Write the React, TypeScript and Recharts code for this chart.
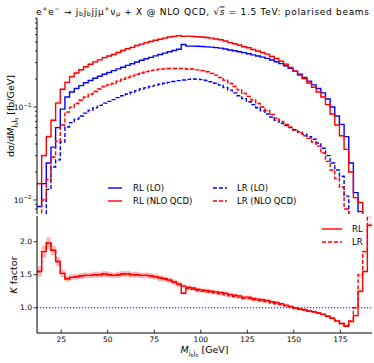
import { Area, ComposedChart, Line, ReferenceLine, XAxis, YAxis } from "recharts"

const FONT = "DejaVu Sans"
const BLUE = "#0000ff"
const RED = "#ff0000"

// M_jbjb bins: 72 bins of 2.5 GeV from 12 to 192 GeV
const BIN_START = 12
const BIN_WIDTH = 2.5

// dsigma/dM [fb/GeV], RL polarisation
const rlLO = [
  0.0085, 0.015, 0.025, 0.037, 0.06, 0.095, 0.128, 0.145, 0.158, 0.17,
  0.182, 0.193, 0.204, 0.214, 0.225, 0.235, 0.246, 0.257, 0.268, 0.28,
  0.292, 0.305, 0.318, 0.33, 0.342, 0.355, 0.367, 0.38, 0.393, 0.405,
  0.418, 0.47, 0.452, 0.452, 0.45, 0.447, 0.443, 0.44, 0.435, 0.43,
  0.42, 0.41, 0.402, 0.393, 0.384, 0.374, 0.364, 0.354, 0.344, 0.333,
  0.32, 0.307, 0.293, 0.278, 0.261, 0.243, 0.225, 0.208, 0.19, 0.173,
  0.158, 0.142, 0.122, 0.1, 0.08, 0.065, 0.048, 0.025, 0.012, 0.0075,
  0.003, 0.001,
]
const rlNLO = [
  0.015, 0.03, 0.048, 0.072, 0.11, 0.155, 0.184, 0.212, 0.232, 0.252,
  0.271, 0.288, 0.306, 0.321, 0.34, 0.353, 0.367, 0.386, 0.405, 0.423,
  0.438, 0.458, 0.474, 0.492, 0.506, 0.522, 0.535, 0.55, 0.565, 0.575,
  0.585, 0.575, 0.578, 0.575, 0.57, 0.565, 0.558, 0.55, 0.539, 0.529,
  0.512, 0.492, 0.478, 0.464, 0.445, 0.434, 0.415, 0.4, 0.385, 0.37,
  0.349, 0.332, 0.311, 0.289, 0.266, 0.243, 0.22, 0.202, 0.181, 0.163,
  0.145, 0.128, 0.106, 0.084, 0.064, 0.049, 0.035, 0.02, 0.0106, 0.0094,
  0.0047, 0.0023,
]

// LR polarisation
const lrLO = [
  0.002, 0.004, 0.013, 0.0226, 0.027, 0.042, 0.061, 0.068, 0.074, 0.08,
  0.086, 0.092, 0.098, 0.104, 0.11, 0.115, 0.12, 0.126, 0.132, 0.138,
  0.144, 0.15, 0.156, 0.161, 0.166, 0.171, 0.176, 0.18, 0.184, 0.188,
  0.192, 0.195, 0.198, 0.2, 0.199, 0.197, 0.193, 0.187, 0.18, 0.172,
  0.162, 0.152, 0.142, 0.132, 0.123, 0.114, 0.106, 0.098, 0.091, 0.084,
  0.078, 0.072, 0.067, 0.063, 0.06, 0.057, 0.054, 0.051, 0.048, 0.045,
  0.041, 0.036, 0.03, 0.025, 0.021, 0.018, 0.011, 0.006, 0.002, 0.001,
  0.001, 0.001,
]
const lrNLO = [
  0.006, 0.01, 0.0165, 0.029, 0.043, 0.064, 0.088, 0.099, 0.109, 0.118,
  0.128, 0.137, 0.147, 0.156, 0.166, 0.173, 0.179, 0.189, 0.199, 0.208,
  0.216, 0.225, 0.232, 0.24, 0.246, 0.251, 0.255, 0.257, 0.259, 0.259,
  0.259, 0.259, 0.255, 0.256, 0.251, 0.246, 0.239, 0.23, 0.22, 0.208,
  0.194, 0.179, 0.166, 0.153, 0.14, 0.13, 0.119, 0.109, 0.1, 0.092,
  0.083, 0.076, 0.07, 0.065, 0.061, 0.056, 0.053, 0.049, 0.046, 0.042,
  0.038, 0.032, 0.026, 0.021, 0.017, 0.0137, 0.008, 0.0048, 0.002, 0.0015,
  0.0018, 0.0024,
]

// K factors NLO/LO
const kRL = [
  1.55, 1.85, 1.98, 1.87, 1.7, 1.52, 1.44, 1.46, 1.47, 1.48,
  1.49, 1.49, 1.5, 1.5, 1.51, 1.5, 1.49, 1.5, 1.51, 1.51,
  1.5, 1.5, 1.49, 1.49, 1.48, 1.47, 1.45, 1.44, 1.42, 1.39,
  1.36, 1.22, 1.31, 1.3, 1.28, 1.27, 1.26, 1.25, 1.24, 1.23,
  1.22, 1.2, 1.19, 1.18, 1.16, 1.16, 1.14, 1.13, 1.12, 1.11,
  1.09, 1.08, 1.06, 1.04, 1.02, 1.0, 0.98, 0.97, 0.95, 0.94,
  0.92, 0.9, 0.87, 0.84, 0.8, 0.76, 0.72, 0.79, 0.88, 1.25,
  1.55, 2.25,
]
const kLR = [
  1.55, 1.85, 1.98, 1.87, 1.7, 1.52, 1.44, 1.46, 1.47, 1.48,
  1.49, 1.49, 1.5, 1.5, 1.51, 1.5, 1.49, 1.5, 1.51, 1.51,
  1.5, 1.5, 1.49, 1.49, 1.48, 1.47, 1.45, 1.43, 1.41, 1.38,
  1.35, 1.33, 1.29, 1.28, 1.26, 1.25, 1.24, 1.23, 1.22, 1.21,
  1.2, 1.18, 1.17, 1.16, 1.14, 1.14, 1.12, 1.11, 1.1, 1.09,
  1.07, 1.06, 1.05, 1.03, 1.01, 0.99, 0.98, 0.97, 0.95, 0.94,
  0.92, 0.9, 0.87, 0.84, 0.8, 0.76, 0.73, 0.8, 1.0, 1.5,
  1.85, 2.4,
]

// relative scale uncertainty of the NLO predictions
const scaleUnc = [
  0.05, 0.05, 0.045, 0.04, 0.04, 0.035, 0.03, 0.03, 0.03, 0.03,
  0.03, 0.03, 0.03, 0.03, 0.03, 0.03, 0.03, 0.03, 0.03, 0.03,
  0.03, 0.03, 0.03, 0.03, 0.03, 0.03, 0.03, 0.03, 0.03, 0.03,
  0.03, 0.025, 0.025, 0.025, 0.025, 0.025, 0.025, 0.025, 0.025, 0.025,
  0.025, 0.025, 0.025, 0.025, 0.025, 0.025, 0.025, 0.025, 0.025, 0.025,
  0.025, 0.02, 0.02, 0.02, 0.02, 0.02, 0.02, 0.02, 0.02, 0.02,
  0.02, 0.02, 0.02, 0.02, 0.02, 0.02, 0.02, 0.02, 0.02, 0.02,
  0.02, 0.02,
]

const xTicks = [25, 50, 75, 100, 125, 150, 175]
const logMajor = [0.01, 0.1]
const logTicks = [
  0.008, 0.009, 0.01, 0.02, 0.03, 0.04, 0.05, 0.06, 0.07, 0.08, 0.09,
  0.1, 0.2, 0.3, 0.4, 0.5, 0.6, 0.7, 0.8, 0.9,
]
const kTicks = [1.0, 1.5, 2.0]

const band = (v: number, u: number) => [v * (1 - u), v * (1 + u)]

// one row per bin edge, last edge repeats the last bin for the step outline
const rows = Array.from({ length: rlLO.length + 1 }, (_, i) => {
  const j = Math.min(i, rlLO.length - 1)
  return {
    x: BIN_START + BIN_WIDTH * i,
    rlLO: rlLO[j],
    rlNLO: rlNLO[j],
    lrLO: lrLO[j],
    lrNLO: lrNLO[j],
    rlBand: band(rlNLO[j], scaleUnc[j]),
    lrBand: band(lrNLO[j], scaleUnc[j]),
    kRL: kRL[j],
    kLR: kLR[j],
    kRLBand: band(kRL[j], scaleUnc[j]),
    kLRBand: band(kLR[j], scaleUnc[j]),
  }
})

const X_DOMAIN = [12, 192]

type Seg = { t: string; s?: "sup" | "sub" | "sub2"; i?: boolean; o?: boolean }

function Rich({ segs, fs }: { segs: Seg[]; fs: number }) {
  let cur = 0
  return (
    <>
      {segs.map((g, k) => {
        const off =
          g.s === "sup" ? -0.38 * fs : g.s === "sub" ? 0.22 * fs : g.s === "sub2" ? 0.42 * fs : 0
        const size = g.s === "sub2" ? fs * 0.5 : g.s ? fs * 0.7 : fs
        const dy = off - cur
        cur = off
        return (
          <tspan
            key={k}
            dy={dy}
            fontSize={size}
            fontStyle={g.i ? "italic" : undefined}
            textDecoration={g.o ? "overline" : undefined}
          >
            {g.t}
          </tspan>
        )
      })}
    </>
  )
}

function LeftLogTick(props: any) {
  const { x, y, payload } = props
  const v = payload.value
  const major = logMajor.includes(v)
  const len = major ? 3.5 : 2
  return (
    <g>
      <line x1={x - len} x2={x} y1={y} y2={y} stroke="#000" strokeWidth={0.8} />
      {major && (
        <text x={x - 5.5} y={y + 3} textAnchor="end" fontSize={7.5} fontFamily={FONT} fill="#000">
          10
          <tspan dy={-3.5} fontSize={5.5}>
            {"−" + Math.round(-Math.log10(v))}
          </tspan>
        </text>
      )}
    </g>
  )
}

function RightLogTick(props: any) {
  const { x, y, payload } = props
  const len = logMajor.includes(payload.value) ? 3.5 : 2
  return <line x1={x} x2={x - len} y1={y} y2={y} stroke="#000" strokeWidth={0.8} />
}

function LeftKTick(props: any) {
  const { x, y, payload } = props
  return (
    <g>
      <line x1={x - 3.5} x2={x} y1={y} y2={y} stroke="#000" strokeWidth={0.8} />
      <text x={x - 5} y={y + 2.7} textAnchor="end" fontSize={7.5} fontFamily={FONT} fill="#000">
        {payload.value.toFixed(1)}
      </text>
    </g>
  )
}

function RightKTick(props: any) {
  const { x, y } = props
  return <line x1={x} x2={x - 3.5} y1={y} y2={y} stroke="#000" strokeWidth={0.8} />
}

function UpTick(props: any) {
  const { x, y } = props
  return <line x1={x} x2={x} y1={y} y2={y - 3.5} stroke="#000" strokeWidth={0.8} />
}

function DownTick(props: any) {
  const { x, y } = props
  return <line x1={x} x2={x} y1={y} y2={y + 3.5} stroke="#000" strokeWidth={0.8} />
}

function LabelledXTick(props: any) {
  const { x, y, payload } = props
  return (
    <g>
      <line x1={x} x2={x} y1={y} y2={y - 3.5} stroke="#000" strokeWidth={0.8} />
      <text x={x} y={y + 8.5} textAnchor="middle" fontSize={7.5} fontFamily={FONT} fill="#000">
        {payload.value}
      </text>
    </g>
  )
}

const axisLine = { stroke: "#000", strokeWidth: 1 }

function xAxisProps(id: string, orientation: "top" | "bottom", height: number, tick: any) {
  return {
    xAxisId: id,
    orientation,
    type: "number" as const,
    dataKey: "x",
    domain: X_DOMAIN,
    allowDataOverflow: true,
    ticks: xTicks,
    interval: 0 as const,
    height,
    tickSize: 0,
    tickMargin: 0,
    tickLine: false,
    axisLine,
    tick,
  }
}

function UpperPanel() {
  const yProps = {
    scale: "log" as const,
    type: "number" as const,
    domain: [0.00707, 0.906],
    allowDataOverflow: true,
    ticks: logTicks,
    interval: 0 as const,
    tickSize: 0,
    tickMargin: 0,
    tickLine: false,
    axisLine,
  }
  const common = {
    xAxisId: "b",
    yAxisId: "l",
    type: "stepAfter" as const,
    dot: false,
    activeDot: false,
    isAnimationActive: false,
  }
  return (
    <ComposedChart width={374} height={214} data={rows} margin={{ top: 18, right: 2, bottom: 0, left: 0 }}>
      <XAxis {...xAxisProps("b", "bottom", 0, (p: any) => <UpTick {...p} />)} />
      <XAxis {...xAxisProps("t", "top", 0, (p: any) => <DownTick {...p} />)} />
      <YAxis yAxisId="l" width={37} {...yProps} tick={(p: any) => <LeftLogTick {...p} />} />
      <YAxis yAxisId="r" orientation="right" width={0} {...yProps} tick={(p: any) => <RightLogTick {...p} />} />
      <Area {...common} dataKey="rlBand" fill={RED} fillOpacity={0.18} stroke="none" />
      <Area {...common} dataKey="lrBand" fill={RED} fillOpacity={0.18} stroke="none" />
      <Line {...common} dataKey="lrLO" stroke={BLUE} strokeWidth={1.4} strokeDasharray="4 2" />
      <Line {...common} dataKey="rlLO" stroke={BLUE} strokeWidth={1.4} />
      <Line {...common} dataKey="lrNLO" stroke={RED} strokeWidth={1.4} strokeDasharray="4 2" />
      <Line {...common} dataKey="rlNLO" stroke={RED} strokeWidth={1.4} />
    </ComposedChart>
  )
}

function LowerPanel() {
  const yProps = {
    type: "number" as const,
    domain: [0.617, 2.39],
    allowDataOverflow: true,
    ticks: kTicks,
    interval: 0 as const,
    tickSize: 0,
    tickMargin: 0,
    tickLine: false,
    axisLine,
  }
  const common = {
    xAxisId: "b",
    yAxisId: "l",
    type: "stepAfter" as const,
    dot: false,
    activeDot: false,
    isAnimationActive: false,
  }
  return (
    <ComposedChart width={374} height={147} data={rows} margin={{ top: 0, right: 2, bottom: 0, left: 0 }}>
      <XAxis {...xAxisProps("b", "bottom", 30, (p: any) => <LabelledXTick {...p} />)} />
      <XAxis {...xAxisProps("t", "top", 0, (p: any) => <DownTick {...p} />)} />
      <YAxis yAxisId="l" width={37} {...yProps} tick={(p: any) => <LeftKTick {...p} />} />
      <YAxis yAxisId="r" orientation="right" width={0} {...yProps} tick={(p: any) => <RightKTick {...p} />} />
      <ReferenceLine xAxisId="b" yAxisId="l" y={1} stroke={BLUE} strokeWidth={1.2} strokeDasharray="1.2 1.8" />
      <Area {...common} dataKey="kRLBand" fill={RED} fillOpacity={0.15} stroke="none" />
      <Area {...common} dataKey="kLRBand" fill={RED} fillOpacity={0.15} stroke="none" />
      <Line {...common} dataKey="kLR" stroke={RED} strokeWidth={1.4} strokeDasharray="4 2" />
      <Line {...common} dataKey="kRL" stroke={RED} strokeWidth={1.4} />
    </ComposedChart>
  )
}

const titleSegs: Seg[] = [
  { t: "e" }, { t: "+", s: "sup" }, { t: "e" }, { t: "−", s: "sup" },
  { t: " → j" }, { t: "b", s: "sub" }, { t: "j" }, { t: "b", s: "sub" },
  { t: "jjμ" }, { t: "+", s: "sup" }, { t: "ν" }, { t: "μ", s: "sub" },
  { t: " + X @ NLO QCD, √" }, { t: "s", i: true, o: true },
  { t: " = 1.5 TeV: polarised beams" },
]
const mSegs: Seg[] = [
  { t: "M", i: true }, { t: "j", s: "sub" }, { t: "b", s: "sub2" }, { t: "j", s: "sub" }, { t: "b", s: "sub2" },
]

function Overlay() {
  const lg = { fontSize: 8.5, fontFamily: FONT, fill: "#000" }
  return (
    <svg width={374} height={363} style={{ position: "absolute", left: 0, top: 0, pointerEvents: "none" }}>
      <text x={36} y={14.5} fontSize={9} fontFamily={FONT} fill="#000" textLength={333} lengthAdjust="spacing">
        <Rich segs={titleSegs} fs={9} />
      </text>
      <text transform="translate(14,116) rotate(-90)" textAnchor="middle" fontSize={9.5} fontFamily={FONT} fill="#000">
        <Rich segs={[{ t: "dσ/d" }, ...mSegs, { t: " [fb/GeV]" }]} fs={9.5} />
      </text>
      <text transform="translate(17,275) rotate(-90)" textAnchor="middle" fontSize={9.5} fontFamily={FONT} fill="#000">
        <Rich segs={[{ t: "K", i: true }, { t: " factor" }]} fs={9.5} />
      </text>
      <text x={204.5} y={353} textAnchor="middle" fontSize={9.5} fontFamily={FONT} fill="#000">
        <Rich segs={[...mSegs, { t: " [GeV]" }]} fs={9.5} />
      </text>

      <line x1={108} x2={122} y1={188} y2={188} stroke={BLUE} strokeWidth={1.4} />
      <text x={133} y={191} {...lg}>RL (LO)</text>
      <line x1={108} x2={122} y1={201} y2={201} stroke={RED} strokeWidth={1.4} />
      <text x={133} y={204} {...lg}>RL (NLO QCD)</text>
      <line x1={213} x2={227} y1={188} y2={188} stroke={BLUE} strokeWidth={1.4} strokeDasharray="4 2" />
      <text x={237} y={191} {...lg}>LR (LO)</text>
      <line x1={213} x2={227} y1={201} y2={201} stroke={RED} strokeWidth={1.4} strokeDasharray="4 2" />
      <text x={237} y={204} {...lg}>LR (NLO QCD)</text>

      <line x1={322} x2={342} y1={229} y2={229} stroke={RED} strokeWidth={1.4} />
      <text x={352} y={232} {...lg}>RL</text>
      <line x1={322} x2={342} y1={242} y2={242} stroke={RED} strokeWidth={1.4} strokeDasharray="4 2" />
      <text x={352} y={245} {...lg}>LR</text>
    </svg>
  )
}

export default function App() {
  return (
    <div style={{ position: "absolute", left: 0, top: 0, width: 374, height: 363, background: "#fff" }}>
      <div style={{ position: "absolute", left: 0, top: 0 }}>
        <UpperPanel />
      </div>
      <div style={{ position: "absolute", left: 0, top: 216 }}>
        <LowerPanel />
      </div>
      <Overlay />
    </div>
  )
}
